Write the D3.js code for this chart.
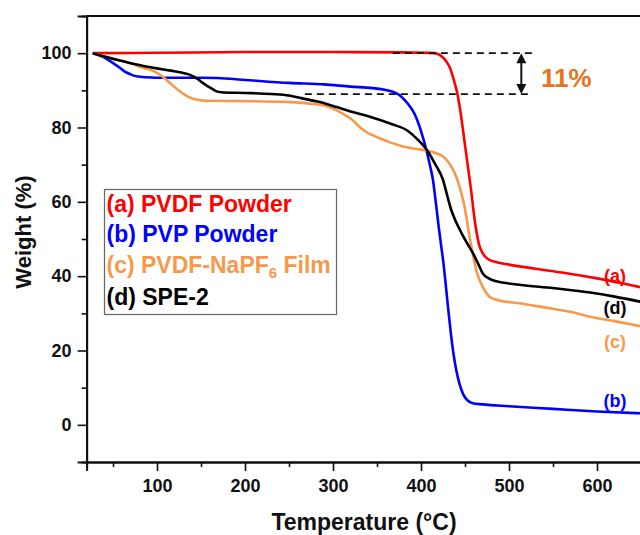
<!DOCTYPE html>
<html><head><meta charset="utf-8">
<script src="https://cdn.jsdelivr.net/npm/d3@7"></script>
<style>
body{margin:0;background:#fff;}
svg text{font-family:"Liberation Sans",Arial,sans-serif;font-weight:bold;}
</style></head>
<body>
<svg id="c" width="640" height="535"></svg>
<script>
// ---- data (Temperature °C, Weight %) ----
const seriesA = [[27,100],[100,100.1],[200,100.3],[300,100.3],[380,100.2],[415,100],[422,99.4],[428,98],[433,96],[437,93],[441,89.5],[445,84],[449,77],[453,70],[457,63],[460,57],[463,52],[466,48.5],[470,46.2],[476,44.6],[485,43.8],[500,43.1],[530,42],[560,41],[600,39.4],[630,38],[650,37]];
const seriesB = [[27,100],[40,98.9],[50,97.3],[57,96.2],[63,95.1],[70,94.3],[78,93.7],[88,93.5],[98,93.4],[150,93.4],[169,93.3],[200,92.8],[250,92],[290,91.6],[320,91],[345,90.6],[360,90.1],[368,89.6],[375,88.8],[381,87.5],[387,85.8],[393,83.5],[398,80.5],[402,77.5],[406,74],[410,70],[413.5,66],[417,59.5],[420,53.5],[423,48],[425,44.5],[428,38],[431,31],[434,24.5],[437,19],[440,14.8],[444,10.8],[448,8.2],[452,6.8],[458,5.9],[470,5.5],[500,5],[550,4.3],[600,3.6],[650,3.1]];
const seriesC = [[27,100],[40,99.2],[54,98.3],[70,97.3],[85,96],[95,95.3],[102,94.4],[109,93.2],[116,91.7],[124,90.1],[133,88.6],[143,87.6],[155,87.2],[200,87.1],[245,86.9],[275,86.4],[290,85.9],[300,85.1],[310,83.9],[320,82.4],[334,79.4],[353,77.1],[365,76],[380,74.9],[395,74.2],[406,73.8],[418,73],[425,72.2],[430,71],[435,69.3],[440,66.8],[445,63],[449.5,58.7],[452.5,54.5],[455.2,50.6],[458,47],[461,43.4],[464,40.6],[467,38.7],[472,36.3],[478,34.4],[490,33.4],[512,32.7],[540,31.6],[570,30.4],[592,29.1],[620,27.9],[650,26.5]];
const seriesD = [[27,100],[40,99.1],[54,98.2],[70,97.3],[86,96.5],[100,95.9],[116,95.3],[131,94.6],[140,93.9],[146.5,93],[152,92],[157,91.2],[162,90.5],[167,89.8],[173,89.5],[200,89.3],[230,89],[250,88.6],[264,87.9],[280,87.1],[292,86.4],[304,85.5],[320,84.3],[342,82.9],[368,80.8],[383,79.4],[396,76.8],[408,73.5],[416,70.2],[425,65.9],[430,61.5],[434.4,57.8],[440,54.5],[446,51.6],[452,49],[459,46.2],[465,43.3],[470,40.8],[477,39.4],[486,38.6],[512,37.7],[550,36.8],[592,35.6],[620,34.5],[650,33.1]];

const legendLabels = ["(a) PVDF Powder","(b) PVP Powder","(c) PVDF-NaPF","(d) SPE-2"];
const curveTags = ["(a)","(b)","(c)","(d)"];
const colors = ["#ff0000","#0000ff","#f7994a","#000000"];
const xMajor = [100,200,300,400,500,600];
const xMinor = [50,150,250,350,450,550,650];
const yMajor = [0,20,40,60,80,100];
const yMinor = [10,30,50,70,90];
const lossTop = 100, lossBottom = 89, lossText = "11%";

const svg = d3.select("#c");
const x = d3.scaleLinear().domain([20,700]).range([86.6, 86.6+680*0.88]);
const y = d3.scaleLinear().domain([-10,110]).range([462,16]);

// frame top
svg.append("line").attr("x1",x(20)).attr("x2",x(700)).attr("y1",y(110)).attr("y2",y(110))
  .attr("stroke","#111").attr("stroke-width",2);

// axes
svg.append("g").attr("transform",`translate(0,${y(-10)})`)
  .call(d3.axisBottom(x).tickValues(xMajor).tickSize(9).tickPadding(8).tickFormat(d3.format("d")));
svg.append("g").attr("transform",`translate(0,${y(-10)})`)
  .call(d3.axisBottom(x).tickValues(xMinor).tickSize(5).tickFormat(""));
svg.append("g").attr("transform",`translate(${x(20)},0)`)
  .call(d3.axisLeft(y).tickValues(yMajor).tickSize(9).tickPadding(6).tickFormat(d3.format("d")));
svg.append("g").attr("transform",`translate(${x(20)},0)`)
  .call(d3.axisLeft(y).tickValues(yMinor).tickSize(5).tickFormat(""));
svg.selectAll(".domain").attr("stroke","#111").attr("stroke-width",2);
svg.selectAll(".tick line").attr("stroke","#111").attr("stroke-width",1.6);
svg.selectAll(".tick text").attr("font-size",18).attr("fill","#111")
  .attr("font-family","'Liberation Sans',Arial,sans-serif").attr("font-weight","bold");

// titles
svg.append("text").attr("x",364).attr("y",530).attr("text-anchor","middle")
  .attr("font-size",23).attr("fill","#111").text("Temperature (°C)");
svg.append("text").attr("transform","translate(31,232) rotate(-90)").attr("text-anchor","middle")
  .attr("font-size",22).attr("fill","#111").text("Weight (%)");

// curves
const line = d3.line().x(d=>x(d[0])).y(d=>y(d[1])).curve(d3.curveMonotoneX);
[seriesA,seriesB,seriesC,seriesD].forEach((s,i)=>{
  svg.append("path").attr("d",line(s)).attr("fill","none").attr("stroke",colors[i])
    .attr("stroke-width",2.6).attr("stroke-linejoin","round");
});

// curve tags
const tagY = [38.5,4.8,20.6,29.8];
curveTags.forEach((t,i)=>{
  svg.append("text").attr("x",615).attr("y",y(tagY[i])).attr("text-anchor","middle")
    .attr("font-size",18).attr("fill",colors[i]).text(t);
});

// legend
svg.append("rect").attr("x",104.5).attr("y",189.5).attr("width",232).attr("height",125)
  .attr("fill","#fff").attr("stroke","#666").attr("stroke-width",1.2);
const lgY = [211.7,241.7,273.3,305];
legendLabels.forEach((t,i)=>{
  const tx = svg.append("text").attr("x",106.5).attr("y",lgY[i]).attr("font-size",23).attr("fill",colors[i]).text(t);
  if(i===2){
    tx.append("tspan").attr("font-size",15).attr("dy",5).text("6");
    tx.append("tspan").attr("dy",-5).text(" Film");
  }
});

// annotation
svg.append("line").attr("x1",x(368)).attr("x2",x(527)).attr("y1",y(lossTop)).attr("y2",y(lossTop))
  .attr("stroke","#111").attr("stroke-width",1.8).attr("stroke-dasharray","7,5");
svg.append("line").attr("x1",x(268)).attr("x2",x(527)).attr("y1",y(lossBottom)).attr("y2",y(lossBottom))
  .attr("stroke","#111").attr("stroke-width",1.8).attr("stroke-dasharray","7,5");
const ax = x(514);
svg.append("line").attr("x1",ax).attr("x2",ax).attr("y1",y(lossTop)+8).attr("y2",y(lossBottom)-8)
  .attr("stroke","#111").attr("stroke-width",2);
svg.append("path").attr("d",`M${ax},${y(lossTop)} l-5,10 l10,0 z`).attr("fill","#111");
svg.append("path").attr("d",`M${ax},${y(lossBottom)} l-5,-10 l10,0 z`).attr("fill","#111");
svg.append("text").attr("x",541).attr("y",87).attr("font-size",26).attr("fill","#e8731e").text(lossText);
</script>
</body></html>
